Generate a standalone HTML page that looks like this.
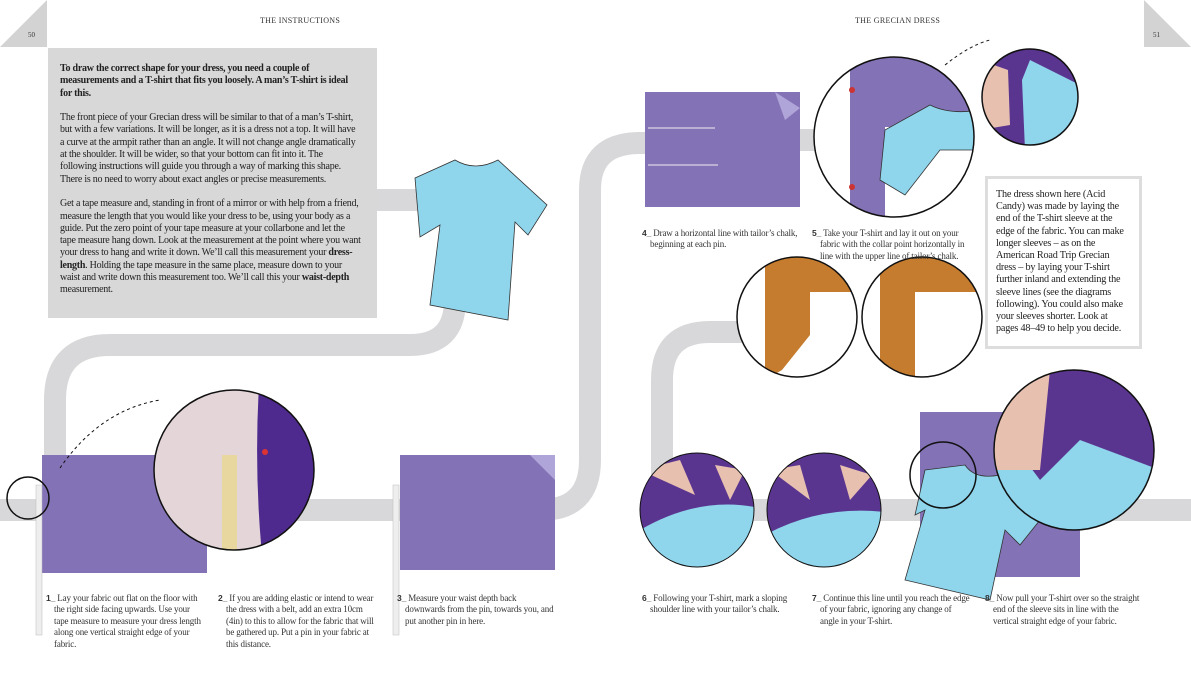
<!DOCTYPE html>
<html><head><meta charset="utf-8"><style>
body{margin:0;width:1191px;height:694px;background:#fff;position:relative;overflow:hidden;font-family:"Liberation Serif",serif;color:#333}
.a{position:absolute}
.cap{position:absolute;font-size:9px;line-height:11.4px;width:150px;padding-left:8px;text-indent:-8px;letter-spacing:-0.15px}
.cap b{font-family:"Liberation Sans",sans-serif;font-size:8.5px}
</style></head><body>
<svg class="a" style="left:0;top:0" width="1191" height="694">
<defs>
<clipPath id="c1"><circle cx="234" cy="470" r="80"/></clipPath>
<clipPath id="c5"><circle cx="894" cy="137" r="80"/></clipPath>
<clipPath id="c5b"><circle cx="1030" cy="97" r="48"/></clipPath>
<clipPath id="o1"><circle cx="797" cy="317" r="60"/></clipPath>
<clipPath id="o2"><circle cx="922" cy="317" r="60"/></clipPath>
<clipPath id="c6"><circle cx="697" cy="510" r="57"/></clipPath>
<clipPath id="c7"><circle cx="824" cy="510" r="57"/></clipPath>
<clipPath id="c8"><circle cx="1074" cy="450" r="80"/></clipPath>
</defs>
<polygon points="0,47 47,0 47,47" fill="#d3d3d4"/>
<polygon points="1144,0 1191,47 1144,47" fill="#d3d3d4"/>
<g fill="none" stroke="#d8d8da" stroke-width="22">
<path d="M370,200 H430 Q455,200 455,240 V300 Q455,345 410,345 H110 Q55,345 55,400 V460"/>
<path d="M0,510 H540 Q590,510 590,460 V190 Q590,143 640,143 H660"/>
<path d="M790,140 H840"/>
<path d="M760,332 H710 Q662,332 662,380 V470 Q662,510 710,510 H1191"/>
</g>
<rect x="42" y="455" width="165" height="118" fill="#8472b6"/>
<rect x="36" y="485" width="6" height="150" fill="#eee" stroke="#bbb" stroke-width="0.5"/>
<circle cx="28" cy="498" r="21" fill="none" stroke="#111" stroke-width="1.5"/>
<path d="M60,468 Q100,410 160,400" fill="none" stroke="#111" stroke-dasharray="3,3"/>
<g clip-path="url(#c1)">
<rect x="150" y="385" width="170" height="170" fill="#e4d6d8"/>
<path d="M259,385 Q254,470 262,555 L320,555 L320,385Z" fill="#4f2a8e"/>
<rect x="222" y="455" width="15" height="100" fill="#e8d8a0"/>
</g>
<circle cx="234" cy="470" r="80" fill="none" stroke="#111" stroke-width="1.5"/>
<circle cx="265" cy="452" r="3" fill="#d33"/>
<rect x="400" y="455" width="155" height="115" fill="#8472b6"/>
<polygon points="530,455 555,455 555,480" fill="#b0a5d8"/>
<rect x="393" y="485" width="6" height="150" fill="#eee" stroke="#bbb" stroke-width="0.5"/>
<path d="M415,178 L455,160 Q475,172 498,160 L547,205 L528,235 L515,222 L508,320 L430,305 L440,225 L420,237 Z" fill="#8fd5ec" stroke="#333" stroke-width="0.8"/>
<rect x="645" y="92" width="155" height="115" fill="#8472b6"/>
<polygon points="775,92 800,108 785,120" fill="#b0a5d8"/>
<line x1="648" y1="128" x2="715" y2="128" stroke="#eee"/>
<line x1="648" y1="165" x2="718" y2="165" stroke="#eee"/>
<circle cx="894" cy="137" r="80" fill="#fff"/>
<g clip-path="url(#c5)">
<rect x="850" y="55" width="35" height="170" fill="#8472b6"/>
<rect x="885" y="55" width="95" height="72" fill="#8472b6"/>
<path d="M885,130 L930,105 Q950,115 980,110 L980,150 L940,150 L905,195 L880,180 Z" fill="#8fd5ec" stroke="#333" stroke-width="0.8"/>
</g>
<circle cx="894" cy="137" r="80" fill="none" stroke="#111" stroke-width="1.5"/>
<circle cx="852" cy="90" r="3" fill="#c33"/><circle cx="852" cy="187" r="3" fill="#c33"/>
<path d="M945,65 Q970,45 990,40" fill="none" stroke="#111" stroke-dasharray="3,3"/>
<g clip-path="url(#c5b)">
<rect x="980" y="45" width="100" height="100" fill="#5a3590"/>
<path d="M1030,60 L1080,85 L1080,150 L1025,150 L1022,80Z" fill="#8fd5ec"/>
<path d="M980,60 L1008,70 L1010,125 L980,130Z" fill="#e8c0b0"/>
</g>
<circle cx="1030" cy="97" r="48" fill="none" stroke="#111" stroke-width="1.5"/>
<circle cx="797" cy="317" r="60" fill="#fff"/>
<g clip-path="url(#o1)"><path d="M765,255 L860,255 L860,292 L810,292 L810,335 L782,370 L765,380 Z" fill="#c67c2e"/></g>
<circle cx="797" cy="317" r="60" fill="none" stroke="#111" stroke-width="1.5"/>
<circle cx="922" cy="317" r="60" fill="#fff"/>
<g clip-path="url(#o2)"><path d="M880,255 L985,255 L985,292 L915,292 L915,380 L880,380 Z" fill="#c67c2e"/></g>
<circle cx="922" cy="317" r="60" fill="none" stroke="#111" stroke-width="1.5"/>
<g clip-path="url(#c6)">
<rect x="638" y="450" width="120" height="120" fill="#5a3590"/>
<path d="M640,530 Q700,495 760,508 L760,570 L640,570 Z" fill="#8fd5ec"/>
<path d="M640,470 L680,460 L695,495 Z" fill="#e8c0b0"/><path d="M715,465 L745,470 L730,500 Z" fill="#e8c0b0"/>
</g>
<circle cx="697" cy="510" r="57" fill="none" stroke="#111" stroke-width="1"/>
<g clip-path="url(#c7)">
<rect x="765" y="450" width="120" height="120" fill="#5a3590"/>
<path d="M765,535 Q820,505 885,512 L885,570 L765,570 Z" fill="#8fd5ec"/>
<path d="M770,470 L800,465 L810,500 Z" fill="#e8c0b0"/><path d="M840,465 L872,475 L850,500 Z" fill="#e8c0b0"/>
</g>
<circle cx="824" cy="510" r="57" fill="none" stroke="#111" stroke-width="1"/>
<rect x="920" y="412" width="160" height="165" fill="#8472b6"/>
<path d="M925,470 L965,465 Q975,480 1000,475 L1040,520 L1020,545 L1005,530 L990,600 L905,580 L925,510 L915,515 Z" fill="#8fd5ec" stroke="#333" stroke-width="0.8"/>
<circle cx="943" cy="475" r="33" fill="none" stroke="#111" stroke-width="1.5"/>
<g clip-path="url(#c8)">
<rect x="990" y="365" width="170" height="170" fill="#5a3590"/>
<path d="M995,440 L1010,440 L1040,480 L1080,440 L1160,470 L1160,540 L990,540Z" fill="#8fd5ec"/>
<path d="M990,370 L1050,370 L1040,470 L990,470Z" fill="#e8c0b0"/>
</g>
<circle cx="1074" cy="450" r="80" fill="none" stroke="#111" stroke-width="1.5"/>
</svg>
<div class="a" style="left:28px;top:31px;font-size:7px">50</div>
<div class="a" style="left:1153px;top:31px;font-size:7px">51</div>
<div class="a" style="left:260px;top:16px;font-size:8px;letter-spacing:.3px">THE INSTRUCTIONS</div>
<div class="a" style="left:855px;top:16px;font-size:8px;letter-spacing:.3px">THE GRECIAN DRESS</div>
<div class="a" style="left:48px;top:48px;width:329px;height:270px;background:#d8d8d8;box-sizing:border-box;padding:15px 16px 0 12px;font-size:10px;line-height:12.3px;letter-spacing:-0.25px;color:#222">
<b>To draw the correct shape for your dress, you need a couple of measurements and a T-shirt that fits you loosely. A man’s T-shirt is ideal for this.</b><br><br>
The front piece of your Grecian dress will be similar to that of a man’s T-shirt, but with a few variations. It will be longer, as it is a dress not a top. It will have a curve at the armpit rather than an angle. It will not change angle dramatically at the shoulder. It will be wider, so that your bottom can fit into it. The following instructions will guide you through a way of marking this shape. There is no need to worry about exact angles or precise measurements.<br><br>
Get a tape measure and, standing in front of a mirror or with help from a friend, measure the length that you would like your dress to be, using your body as a guide. Put the zero point of your tape measure at your collarbone and let the tape measure hang down. Look at the measurement at the point where you want your dress to hang and write it down. We’ll call this measurement your <b>dress-length</b>. Holding the tape measure in the same place, measure down to your waist and write down this measurement too. We’ll call this your <b>waist-depth</b> measurement.</div>
<div class="a" style="left:985px;top:176px;width:157px;height:173px;border:3px solid #ddd;background:#fff;box-sizing:border-box;padding:10px 8px;font-size:10.2px;line-height:12.2px;letter-spacing:-0.2px;color:#222">The dress shown here (Acid Candy) was made by laying the end of the T-shirt sleeve at the edge of the fabric. You can make longer sleeves – as on the American Road Trip Grecian dress – by laying your T-shirt further inland and extending the sleeve lines (see the diagrams following). You could also make your sleeves shorter. Look at pages 48–49 to help you decide.</div>
<div class="cap" style="left:46px;top:593px"><b>1_</b> Lay your fabric out flat on the floor with the right side facing upwards. Use your tape measure to measure your dress length along one vertical straight edge of your fabric.</div>
<div class="cap" style="left:218px;top:593px"><b>2_</b> If you are adding elastic or intend to wear the dress with a belt, add an extra 10cm (4in) to this to allow for the fabric that will be gathered up. Put a pin in your fabric at this distance.</div>
<div class="cap" style="left:397px;top:593px"><b>3_</b> Measure your waist depth back downwards from the pin, towards you, and put another pin in here.</div>
<div class="cap" style="left:642px;top:228px"><b>4_</b> Draw a horizontal line with tailor’s chalk, beginning at each pin.</div>
<div class="cap" style="left:812px;top:228px"><b>5_</b> Take your T-shirt and lay it out on your fabric with the collar point horizontally in line with the upper line of tailor’s chalk.</div>
<div class="cap" style="left:642px;top:593px"><b>6_</b> Following your T-shirt, mark a sloping shoulder line with your tailor’s chalk.</div>
<div class="cap" style="left:812px;top:593px"><b>7_</b> Continue this line until you reach the edge of your fabric, ignoring any change of angle in your T-shirt.</div>
<div class="cap" style="left:985px;top:593px"><b>8_</b> Now pull your T-shirt over so the straight end of the sleeve sits in line with the vertical straight edge of your fabric.</div>
</body></html>
